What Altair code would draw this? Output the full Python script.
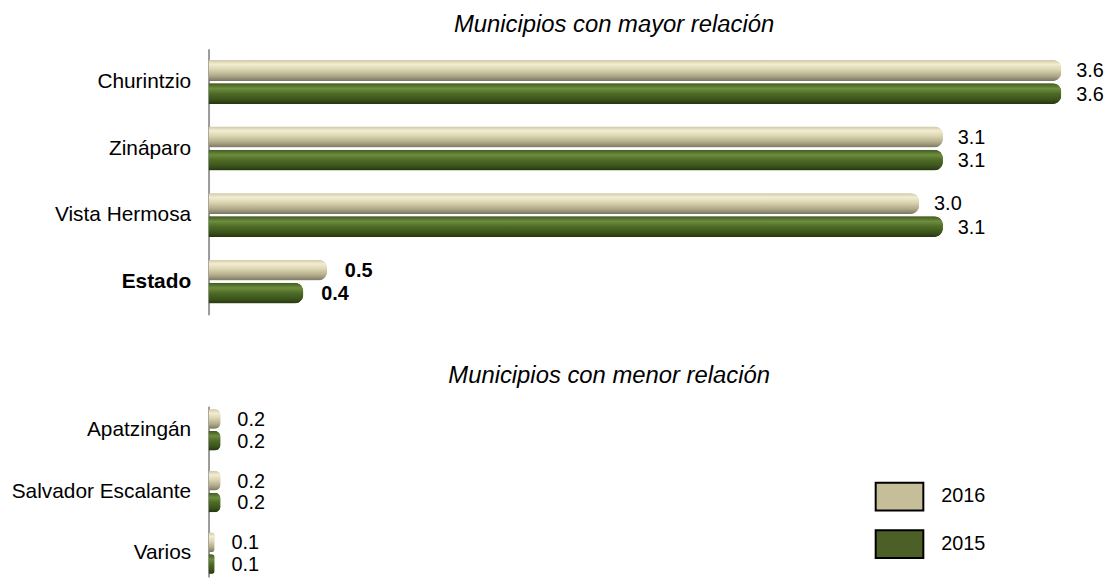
import altair as alt
import pandas as pd

# ---- data ----
years = ["2016", "2015"]

top_cats = ["Churintzio", "Zináparo", "Vista Hermosa", "Estado"]
top_2016 = [3.6, 3.1, 3.0, 0.5]
top_2015 = [3.6, 3.1, 3.1, 0.4]

bot_cats = ["Apatzingán", "Salvador Escalante", "Varios"]
bot_2016 = [0.2, 0.2, 0.1]
bot_2015 = [0.2, 0.2, 0.1]

title_top = "Municipios con mayor relación"
title_bot = "Municipios con menor relación"


def long_df(cats, v16, v15):
    rows = []
    for c, a, b in zip(cats, v16, v15):
        rows.append({"cat": c, "year": "2016", "value": a})
        rows.append({"cat": c, "year": "2015", "value": b})
    return pd.DataFrame(rows)


df_top = long_df(top_cats, top_2016, top_2015)
df_bot = long_df(bot_cats, bot_2016, bot_2015)

FLAT = ["#c6be98", "#4b5f26"]

grad_beige = alt.LinearGradient(
    gradient="linear", x1=0, y1=0, x2=0, y2=1,
    stops=[
        alt.GradientStop(offset=0.0, color="#cfc9a8"),
        alt.GradientStop(offset=0.2, color="#f2edd2"),
        alt.GradientStop(offset=0.45, color="#dcd5b1"),
        alt.GradientStop(offset=0.75, color="#b2ab8a"),
        alt.GradientStop(offset=1.0, color="#7a7664"),
    ],
)
grad_green = alt.LinearGradient(
    gradient="linear", x1=0, y1=0, x2=0, y2=1,
    stops=[
        alt.GradientStop(offset=0.0, color="#405a20"),
        alt.GradientStop(offset=0.25, color="#6e8d3e"),
        alt.GradientStop(offset=0.5, color="#4e6b26"),
        alt.GradientStop(offset=0.8, color="#3a521b"),
        alt.GradientStop(offset=1.0, color="#25350f"),
    ],
)


def panel(df, cats, title, width, height, xmax, pin, pout, title_offset,
          title_dx, text_dx, show_legend):
    label_weight = {"condition": {"test": "datum.value == 'Estado'", "value": "bold"},
                    "value": "normal"}
    base = alt.Chart(df).encode(
        y=alt.Y("cat:N", sort=cats,
                scale=alt.Scale(paddingInner=pin, paddingOuter=pout),
                axis=alt.Axis(title=None, domainColor="#9a9a9a", domainWidth=2,
                              ticks=False, labelFontSize=21, labelColor="black",
                              labelPadding=18, labelFontWeight=label_weight,
                              labelLimit=400)),
        yOffset=alt.YOffset("year:N", sort=years,
                            scale=alt.Scale(paddingInner=0.1, paddingOuter=0)),
        x=alt.X("value:Q", scale=alt.Scale(domain=[0, xmax], nice=False), axis=None),
    )
    if show_legend:
        leg = alt.Legend(title=None, orient="none", legendX=671, legendY=66,
                         symbolType="M-1,-0.583H1V0.583H-1Z", symbolSize=2304,
                         symbolStrokeColor="black", symbolStrokeWidth=2,
                         symbolOpacity=1, labelFontSize=20, labelColor="black",
                         labelOffset=17, rowPadding=5)
    else:
        leg = None
    flat = base.mark_bar(cornerRadiusEnd=9).encode(
        color=alt.Color("year:N", sort=years,
                        scale=alt.Scale(domain=years, range=FLAT), legend=leg)
    )
    g16 = base.transform_filter("datum.year == '2016'").mark_bar(
        cornerRadiusEnd=9, color=grad_beige)
    g15 = base.transform_filter("datum.year == '2015'").mark_bar(
        cornerRadiusEnd=9, color=grad_green)
    txt = base.mark_text(
        align="left", baseline="middle", dy=1, fontSize=20, color="black",
        dx=alt.expr(text_dx),
        fontWeight=alt.expr("datum.cat == 'Estado' ? 'bold' : 'normal'"),
    ).encode(text=alt.Text("value:Q", format=".1f"))
    return alt.layer(flat, g16, g15, txt).properties(
        width=width, height=height,
        title=alt.TitleParams(title, fontSize=24, fontStyle="italic",
                              fontWeight="normal", color="black", anchor="middle",
                              frame="group", baseline="alphabetic",
                              offset=title_offset, dx=title_dx),
    )


top = panel(df_top, top_cats, title_top, 859, 268, 3.6, 0.34, 0.17, -7, -21,
            "datum.cat == 'Estado' ? 18 : 15", False)
bot = panel(df_bot, bot_cats, title_bot, 859, 172, 14.3, 0.33, 0.05, -1, -26,
            "17", True)

chart = alt.vconcat(top, bot, spacing=92, bounds="flush").resolve_scale(
    x="independent", y="independent", color="independent", yOffset="independent"
).properties(
    padding={"left": 3, "top": 3, "right": 2, "bottom": 2}
).configure(font="Liberation Sans").configure_view(stroke=None)

chart.save("out.html", embed_options={"renderer": "svg", "actions": False})
